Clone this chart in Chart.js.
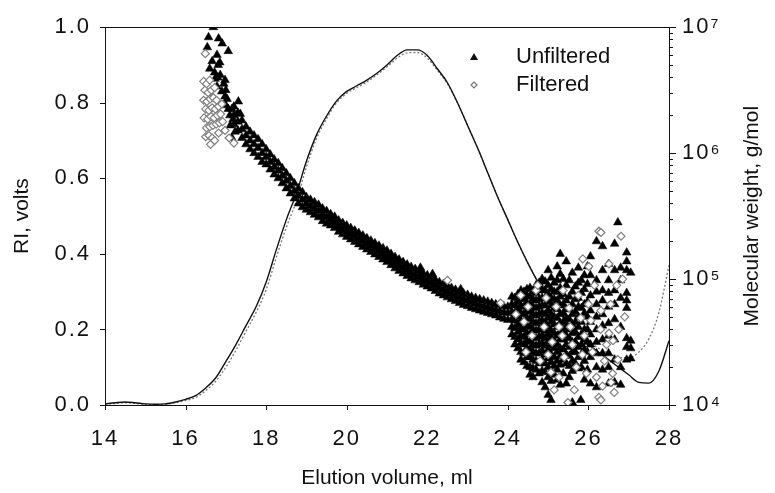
<!DOCTYPE html>
<html>
<head>
<meta charset="utf-8">
<style>
  html, body { margin: 0; padding: 0; background: #fff; }
  canvas { display: block; }
</style>
<script src="https://cdn.jsdelivr.net/npm/chart.js@4.4.1/dist/chart.umd.min.js"></script>
</head>
<body>
<canvas id="gpc" width="775" height="493"></canvas>
<script>
// RI traces, read every 0.25 ml
var riVolume = [14, 14.25, 14.5, 14.75, 15, 15.25, 15.5, 15.75, 16, 16.25, 16.5, 16.75,
  17, 17.25, 17.5, 17.75, 18, 18.25, 18.5, 18.75, 19, 19.25, 19.5, 19.75,
  20, 20.25, 20.5, 20.75, 21, 21.25, 21.5, 21.75, 22, 22.25, 22.5, 22.75,
  23, 23.25, 23.5, 23.75, 24, 24.25, 24.5, 24.75, 25, 25.25, 25.5, 25.75,
  26, 26.25, 26.5, 26.75, 27, 27.25, 27.5, 27.75, 28];
var riUnfiltered = [0.003, 0.006, 0.008, 0.006, 0.003, 0.002, 0.003, 0.008, 0.015, 0.025, 0.045, 0.072,
  0.115, 0.16, 0.21, 0.26, 0.325, 0.41, 0.49, 0.56, 0.645, 0.715, 0.765, 0.805,
  0.83, 0.845, 0.86, 0.878, 0.9, 0.925, 0.94, 0.94, 0.925, 0.89, 0.853, 0.8,
  0.74, 0.68, 0.615, 0.55, 0.49, 0.43, 0.375, 0.325, 0.285, 0.25, 0.215, 0.185,
  0.16, 0.14, 0.12, 0.1, 0.08, 0.06, 0.058, 0.09, 0.17];
var riFiltered = [0.002, 0.004, 0.006, 0.004, 0.002, 0.001, 0.002, 0.006, 0.012, 0.02, 0.038, 0.063,
  0.1, 0.145, 0.195, 0.245, 0.305, 0.39, 0.47, 0.54, 0.63, 0.705, 0.758, 0.8,
  0.825, 0.84, 0.855, 0.874, 0.895, 0.918, 0.932, 0.933, 0.918, 0.886, 0.85, 0.8,
  0.74, 0.68, 0.615, 0.55, 0.49, 0.43, 0.375, 0.325, 0.285, 0.25, 0.22, 0.19,
  0.17, 0.15, 0.137, 0.127, 0.125, 0.14, 0.175, 0.245, 0.37];

// molecular weight points: [elution volume ml, log10 of g/mol]
var unfilteredEarly = [[16.69, 7.0], [16.57, 6.92], [16.82, 6.91], [16.91, 6.87], [16.54, 6.84], [17.06, 6.81],
  [16.78, 6.78], [16.66, 6.73], [16.81, 6.7], [16.6, 6.67], [16.86, 6.62], [16.73, 6.59], [16.98, 6.58],
  [16.78, 6.53], [16.9, 6.49], [16.85, 6.72], [16.72, 6.64], [16.95, 6.55], [16.8, 6.6], [17.0, 6.5],
  [17.03, 6.43], [16.98, 6.45], [17.31, 6.41], [17.0, 6.38], [17.06, 6.35], [17.15, 6.35], [17.1, 6.3],
  [17.18, 6.27], [17.36, 6.31], [17.11, 6.22], [17.23, 6.17], [17.15, 6.12]];
var unfilteredBand = [
  [17.2, 6.37], [17.2, 6.3], [17.2, 6.23], [17.3, 6.32], [17.3, 6.25], [17.3, 6.18],
  [17.4, 6.26], [17.4, 6.19], [17.4, 6.12], [17.5, 6.21], [17.5, 6.14], [17.5, 6.07],
  [17.6, 6.17], [17.6, 6.1], [17.6, 6.03], [17.7, 6.14], [17.7, 6.07], [17.7, 6.0],
  [17.8, 6.11], [17.8, 6.04], [17.8, 5.97], [17.9, 6.07], [17.9, 6.0], [17.9, 5.93],
  [18.0, 6.03], [18.0, 5.97], [18.0, 5.91], [18.1, 5.99], [18.1, 5.93], [18.1, 5.87],
  [18.2, 5.95], [18.2, 5.89], [18.2, 5.83], [18.3, 5.92], [18.3, 5.86], [18.3, 5.8],
  [18.4, 5.88], [18.4, 5.82], [18.4, 5.76], [18.5, 5.84], [18.5, 5.78], [18.5, 5.72],
  [18.6, 5.8], [18.6, 5.74], [18.6, 5.68], [18.7, 5.76], [18.7, 5.7], [18.7, 5.64],
  [18.8, 5.72], [18.8, 5.66], [18.8, 5.6], [18.9, 5.69], [18.9, 5.63], [18.9, 5.57],
  [19.0, 5.65], [19.0, 5.6], [19.0, 5.55], [19.1, 5.63], [19.1, 5.58], [19.1, 5.53],
  [19.2, 5.61], [19.2, 5.56], [19.2, 5.51], [19.3, 5.59], [19.3, 5.54], [19.3, 5.49],
  [19.4, 5.56], [19.4, 5.51], [19.4, 5.46], [19.5, 5.54], [19.5, 5.49], [19.5, 5.44],
  [19.6, 5.515], [19.6, 5.47], [19.6, 5.425], [19.7, 5.495], [19.7, 5.45], [19.7, 5.405],
  [19.8, 5.465], [19.8, 5.42], [19.8, 5.375], [19.9, 5.445], [19.9, 5.4], [19.9, 5.355],
  [20.0, 5.425], [20.0, 5.38], [20.0, 5.335], [20.1, 5.405], [20.1, 5.36], [20.1, 5.315],
  [20.2, 5.385], [20.2, 5.34], [20.2, 5.295], [20.3, 5.365], [20.3, 5.32], [20.3, 5.275],
  [20.4, 5.345], [20.4, 5.3], [20.4, 5.255], [20.5, 5.325], [20.5, 5.28], [20.5, 5.235],
  [20.6, 5.305], [20.6, 5.26], [20.6, 5.215], [20.7, 5.285], [20.7, 5.24], [20.7, 5.195],
  [20.8, 5.265], [20.8, 5.22], [20.8, 5.175], [20.9, 5.245], [20.9, 5.2], [20.9, 5.155],
  [21.0, 5.225], [21.0, 5.18], [21.0, 5.135], [21.1, 5.2], [21.1, 5.155], [21.1, 5.11],
  [21.2, 5.175], [21.2, 5.13], [21.2, 5.085], [21.3, 5.155], [21.3, 5.11], [21.3, 5.065],
  [21.4, 5.135], [21.4, 5.09], [21.4, 5.045], [21.5, 5.115], [21.5, 5.07], [21.5, 5.025],
  [21.6, 5.095], [21.6, 5.05], [21.6, 5.005], [21.7, 5.08], [21.7, 5.035], [21.7, 4.99],
  [21.8, 5.065], [21.8, 5.02], [21.8, 4.975], [21.9, 5.045], [21.9, 5.0], [21.9, 4.955],
  [22.0, 5.03], [22.0, 4.985], [22.0, 4.94], [22.1, 5.015], [22.1, 4.97], [22.1, 4.925],
  [22.2, 4.995], [22.2, 4.95], [22.2, 4.905], [22.3, 4.975], [22.3, 4.93], [22.3, 4.885],
  [22.4, 4.96], [22.4, 4.915], [22.4, 4.87], [22.5, 4.945], [22.5, 4.9], [22.5, 4.855],
  [22.6, 4.93], [22.6, 4.885], [22.6, 4.84], [22.7, 4.915], [22.7, 4.87], [22.7, 4.825],
  [22.8, 4.9], [22.8, 4.855], [22.8, 4.81], [22.9, 4.885], [22.9, 4.84], [22.9, 4.795],
  [23.0, 4.875], [23.0, 4.83], [23.0, 4.785], [23.1, 4.86], [23.1, 4.815], [23.1, 4.77],
  [23.2, 4.85], [23.2, 4.805], [23.2, 4.76], [23.3, 4.84], [23.3, 4.795], [23.3, 4.75],
  [23.4, 4.83], [23.4, 4.785], [23.4, 4.74], [23.5, 4.82], [23.5, 4.775], [23.5, 4.73],
  [23.6, 4.81], [23.6, 4.765], [23.6, 4.72], [23.7, 4.8], [23.7, 4.755], [23.7, 4.71],
  [23.8, 4.795], [23.8, 4.745], [23.8, 4.695], [23.9, 4.785], [23.9, 4.735], [23.9, 4.685],
  [24.0, 4.78], [24.0, 4.73], [24.0, 4.675],
  [21.83, 5.09], [22.13, 5.04], [22.83, 4.92]];
var unfilteredLate = [
  [24.1, 4.86], [24.1, 4.8], [24.1, 4.74], [24.1, 4.68], [24.1, 4.62], [24.1, 4.56],
  [24.175, 4.85], [24.175, 4.79], [24.175, 4.73], [24.175, 4.67], [24.175, 4.61], [24.175, 4.54], [24.175, 4.48],
  [24.25, 4.88], [24.25, 4.82], [24.25, 4.76], [24.25, 4.7], [24.25, 4.64], [24.25, 4.58], [24.25, 4.52], [24.25, 4.45],
  [24.325, 4.91], [24.325, 4.85], [24.325, 4.79], [24.325, 4.73], [24.325, 4.67], [24.325, 4.61], [24.325, 4.55], [24.325, 4.49], [24.325, 4.42], [24.325, 4.36],
  [24.4, 4.9], [24.4, 4.84], [24.4, 4.78], [24.4, 4.72], [24.4, 4.66], [24.4, 4.6], [24.4, 4.54], [24.4, 4.48], [24.4, 4.41], [24.4, 4.34],
  [24.475, 4.92], [24.475, 4.87], [24.475, 4.81], [24.475, 4.75], [24.475, 4.69], [24.475, 4.63], [24.475, 4.57], [24.475, 4.51], [24.475, 4.45], [24.475, 4.38], [24.475, 4.31],
  [24.55, 4.93], [24.55, 4.86], [24.55, 4.8], [24.55, 4.74], [24.55, 4.68], [24.55, 4.62], [24.55, 4.56], [24.55, 4.5], [24.55, 4.44], [24.55, 4.38], [24.55, 4.3], [24.55, 4.24],
  [24.625, 4.9], [24.625, 4.84], [24.625, 4.78], [24.625, 4.72], [24.625, 4.66], [24.625, 4.6], [24.625, 4.54], [24.625, 4.48], [24.625, 4.42], [24.625, 4.36], [24.625, 4.29], [24.625, 4.22],
  [24.7, 4.95], [24.7, 4.89], [24.7, 4.83], [24.7, 4.77], [24.7, 4.71], [24.7, 4.65], [24.7, 4.59], [24.7, 4.53], [24.7, 4.47], [24.7, 4.41], [24.7, 4.35], [24.7, 4.28],
  [24.775, 4.97], [24.775, 4.91], [24.775, 4.84], [24.775, 4.78], [24.775, 4.72], [24.775, 4.66], [24.775, 4.6], [24.775, 4.54], [24.775, 4.48], [24.775, 4.41], [24.775, 4.33], [24.775, 4.25],
  [24.85, 5.0], [24.85, 4.92], [24.85, 4.85], [24.85, 4.79], [24.85, 4.73], [24.85, 4.67], [24.85, 4.61], [24.85, 4.55], [24.85, 4.49], [24.85, 4.43], [24.85, 4.36], [24.85, 4.27], [24.85, 4.18],
  [24.925, 4.98], [24.925, 4.91], [24.925, 4.85], [24.925, 4.79], [24.925, 4.72], [24.925, 4.66], [24.925, 4.59], [24.925, 4.53], [24.925, 4.47], [24.925, 4.4], [24.925, 4.33], [24.925, 4.26], [24.925, 4.14],
  [25.0, 5.07], [25.0, 4.95], [25.0, 4.88], [25.0, 4.82], [25.0, 4.75], [25.0, 4.69], [25.0, 4.62], [25.0, 4.56], [25.0, 4.5], [25.0, 4.44], [25.0, 4.37], [25.0, 4.3], [25.0, 4.22], [25.0, 4.08],
  [25.075, 5.01], [25.075, 4.92], [25.075, 4.85], [25.075, 4.79], [25.075, 4.72], [25.075, 4.66], [25.075, 4.59], [25.075, 4.53], [25.075, 4.47], [25.075, 4.4], [25.075, 4.34], [25.075, 4.27], [25.075, 4.19],
  [25.15, 4.97], [25.15, 4.9], [25.15, 4.84], [25.15, 4.77], [25.15, 4.7], [25.15, 4.64], [25.15, 4.57], [25.15, 4.51], [25.15, 4.45], [25.15, 4.38], [25.15, 4.31], [25.15, 4.24], [25.07, 4.04],
  [25.225, 5.1], [25.225, 4.99], [25.225, 4.9], [25.225, 4.83], [25.225, 4.76], [25.225, 4.69], [25.225, 4.62], [25.225, 4.55], [25.225, 4.48], [25.225, 4.42], [25.225, 4.35], [25.225, 4.28], [25.225, 4.2],
  [25.3, 5.2], [25.3, 5.04], [25.3, 4.93], [25.3, 4.86], [25.3, 4.79], [25.3, 4.72], [25.3, 4.65], [25.3, 4.58], [25.3, 4.52], [25.3, 4.45], [25.3, 4.39], [25.3, 4.32], [25.3, 4.16],
  [25.375, 5.0], [25.375, 4.88], [25.375, 4.8], [25.375, 4.73], [25.375, 4.66], [25.375, 4.59], [25.375, 4.52], [25.375, 4.44], [25.375, 4.36], [25.375, 4.25],
  [25.45, 5.14], [25.45, 4.95], [25.45, 4.83], [25.45, 4.76], [25.45, 4.69], [25.45, 4.62], [25.45, 4.55], [25.45, 4.48], [25.45, 4.4], [25.45, 4.33], [25.45, 4.17], [25.6, 4.02],
  [25.525, 4.99], [25.525, 4.86], [25.525, 4.76], [25.525, 4.68], [25.525, 4.6], [25.525, 4.53], [25.525, 4.46], [25.525, 4.39], [25.525, 4.31], [25.525, 4.22],
  [25.6, 5.05], [25.6, 4.9], [25.6, 4.8], [25.6, 4.72], [25.6, 4.64], [25.6, 4.57], [25.6, 4.5], [25.6, 4.42], [25.6, 4.35], [25.6, 4.27],
  [25.675, 4.94], [25.675, 4.84], [25.675, 4.74], [25.675, 4.66], [25.675, 4.58], [25.675, 4.5], [25.675, 4.42], [25.675, 4.33],
  [25.75, 5.09], [25.75, 4.97], [25.75, 4.85], [25.75, 4.78], [25.75, 4.7], [25.75, 4.62], [25.75, 4.54], [25.75, 4.46], [25.75, 4.38], [25.75, 4.29], [25.81, 4.04],
  [25.825, 4.99], [25.825, 4.89], [25.825, 4.77], [25.825, 4.66], [25.825, 4.56], [25.825, 4.48], [25.825, 4.4], [25.825, 4.3],
  [25.9, 5.03], [25.9, 4.92], [25.9, 4.8], [25.9, 4.73], [25.9, 4.6], [25.9, 4.52], [25.9, 4.44], [25.9, 4.35], [25.9, 4.2],
  [25.975, 5.1], [25.975, 4.96], [25.975, 4.82], [25.975, 4.7], [25.975, 4.6], [25.975, 4.5], [25.975, 4.42], [25.975, 4.28],
  [26.05, 5.18], [26.05, 5.03], [26.05, 4.87], [26.05, 4.75], [26.05, 4.66], [26.05, 4.56], [26.05, 4.48], [26.05, 4.38], [26.05, 4.17],
  [26.2, 5.3], [26.2, 4.99], [26.2, 4.9], [26.2, 4.8], [26.2, 4.7], [26.2, 4.6], [26.2, 4.5], [26.2, 4.41], [26.2, 4.3], [26.2, 4.14],
  [26.35, 5.26], [26.35, 5.07], [26.35, 4.91], [26.35, 4.83], [26.35, 4.72], [26.35, 4.63], [26.35, 4.52], [26.35, 4.41], [26.35, 4.28],
  [26.5, 5.12], [26.5, 4.99], [26.5, 4.89], [26.5, 4.78], [26.5, 4.65], [26.5, 4.55], [26.5, 4.41], [26.5, 4.3], [26.5, 4.17],
  [26.65, 5.28], [26.65, 5.07], [26.65, 4.91], [26.65, 4.8], [26.65, 4.68], [26.65, 4.52], [26.65, 4.36], [26.65, 4.18],
  [26.73, 5.45], [26.8, 5.09], [26.8, 4.99], [26.8, 4.85], [26.8, 4.62], [26.8, 4.3], [26.8, 4.16],
  [26.95, 5.21], [26.95, 5.14], [26.95, 5.07], [26.95, 4.89], [26.95, 4.83], [26.95, 4.77], [26.95, 4.53], [26.95, 4.46], [26.95, 4.36],
  [27.05, 5.05], [27.05, 4.51], [27.05, 4.45], [27.05, 4.37]];

var filteredEarly = [[16.49, 6.79], [16.45, 6.57], [16.52, 6.55], [16.6, 6.58], [16.48, 6.5], [16.56, 6.48],
  [16.64, 6.5], [16.72, 6.52], [16.45, 6.42], [16.53, 6.41], [16.61, 6.43], [16.69, 6.44], [16.77, 6.42],
  [16.5, 6.35], [16.58, 6.34], [16.66, 6.36], [16.74, 6.35], [16.82, 6.37], [16.9, 6.39], [16.46, 6.28],
  [16.55, 6.27], [16.63, 6.29], [16.71, 6.28], [16.79, 6.3], [16.87, 6.31], [16.52, 6.2], [16.6, 6.21],
  [16.68, 6.22], [16.76, 6.23], [16.84, 6.24], [16.92, 6.25], [16.5, 6.13], [16.58, 6.14], [16.66, 6.12],
  [16.82, 6.16], [16.98, 6.18], [17.08, 6.12], [17.2, 6.08], [16.62, 6.07], [16.72, 6.1]];
var filteredBand = [[22.5, 4.99], [23.82, 4.81]];
var filteredLate = [[24.32, 4.87], [24.7, 4.91], [24.74, 4.95], [25.37, 4.91], [25.52, 4.77], [25.27, 4.62],
  [25.81, 4.69], [26.06, 4.67], [26.31, 4.75], [26.51, 4.57], [26.61, 4.51], [26.73, 4.36], [25.07, 4.26],
  [25.27, 4.22], [25.49, 4.02], [26.26, 4.06], [26.64, 4.1], [26.26, 5.38], [26.81, 5.34], [25.86, 5.16],
  [26.01, 5.1], [26.51, 5.12], [26.31, 5.37], [25.6, 4.48], [25.9, 4.55], [26.1, 4.42], [26.4, 4.35],
  [26.2, 4.22], [25.7, 4.3], [25.4, 4.38], [25.1, 4.5], [24.9, 4.62], [24.6, 4.55], [24.4, 4.66],
  [24.2, 4.72], [25.0, 4.4], [25.65, 4.12], [25.95, 4.25], [26.45, 4.48], [26.75, 4.6], [26.55, 4.8],
  [26.9, 4.7], [26.15, 4.95], [25.75, 4.87], [25.55, 4.62], [25.2, 4.78], [24.95, 4.85], [24.5, 4.78],
  [26.0, 4.8], [26.3, 4.6], [25.35, 4.55], [25.85, 4.4], [26.6, 4.25], [26.35, 4.15], [25.15, 4.12],
  [24.8, 4.35], [24.45, 4.42], [26.85, 5.0], [26.7, 4.95], [26.31, 4.04], [26.56, 4.18]];

var mwDecades = [1e4, 1e5, 1e6, 1e7];
var supDigits = { 4: '\u2074', 5: '\u2075', 6: '\u2076', 7: '\u2077' };

var toMw = function(list) {
  return list.map(function(p) { return { x: p[0], y: Math.pow(10, p[1]) }; });
};
var toRi = function(vals) {
  return vals.map(function(v, i) { return { x: riVolume[i], y: v }; });
};

var FONT = "'Liberation Sans', Arial, sans-serif";
Chart.defaults.font.family = FONT;
Chart.defaults.color = '#111';

var decor = {
  id: 'decor',
  beforeDraw: function(chart) {
    // the scanned tick numbers are set loosely
    chart.ctx.letterSpacing = '2px';
  },
  beforeDatasetsDraw: function(chart) {
    chart.ctx.letterSpacing = '0px';
  },
  afterDraw: function(chart) {
    var ctx = chart.ctx, a = chart.chartArea;
    var xs = chart.scales.x, ri = chart.scales.ri, mw = chart.scales.mw;
    ctx.save();
    ctx.letterSpacing = '0px';
    ctx.strokeStyle = '#111';
    ctx.lineWidth = 1;
    ctx.strokeRect(Math.round(a.left) + 0.5, Math.round(a.top) + 0.5,
      Math.round(a.right - a.left), Math.round(a.bottom - a.top));
    ctx.beginPath();
    xs.ticks.forEach(function(t) {
      var px = Math.round(xs.getPixelForValue(t.value)) + 0.5;
      ctx.moveTo(px, a.bottom);
      ctx.lineTo(px, a.bottom + 5);
    });
    ri.ticks.forEach(function(t) {
      var py = Math.round(ri.getPixelForValue(t.value)) + 0.5;
      ctx.moveTo(a.left, py);
      ctx.lineTo(a.left - 5, py);
    });
    for (var e = 4; e < 7; e++) {
      for (var m = 1; m < 10; m++) {
        var py = Math.round(mw.getPixelForValue(m * Math.pow(10, e))) + 0.5;
        ctx.moveTo(a.right, py);
        ctx.lineTo(a.right + (m == 1 ? 7 : 4), py);
      }
    }
    var top = Math.round(mw.getPixelForValue(1e7)) + 0.5;
    ctx.moveTo(a.right, top);
    ctx.lineTo(a.right + 7, top);
    ctx.stroke();

    // axis titles
    ctx.font = '21px ' + FONT;
    ctx.fillStyle = '#111';
    ctx.textAlign = 'center';
    ctx.textBaseline = 'middle';
    var midY = (a.top + a.bottom) / 2;
    ctx.fillText('Elution volume, ml', (a.left + a.right) / 2, 478);
    ctx.save();
    ctx.translate(22, midY);
    ctx.rotate(-Math.PI / 2);
    ctx.fillText('RI, volts', 0, 0);
    ctx.restore();
    ctx.save();
    ctx.translate(752, midY);
    ctx.rotate(-Math.PI / 2);
    ctx.fillText('Molecular weight, g/mol', 0, 0);
    ctx.restore();

    // legend
    ctx.beginPath();
    ctx.moveTo(474, 53);
    ctx.lineTo(478, 60);
    ctx.lineTo(470, 60);
    ctx.closePath();
    ctx.fill();
    ctx.beginPath();
    ctx.moveTo(474, 82);
    ctx.lineTo(477, 85);
    ctx.lineTo(474, 88);
    ctx.lineTo(471, 85);
    ctx.closePath();
    ctx.strokeStyle = '#777';
    ctx.lineWidth = 1.2;
    ctx.stroke();
    ctx.font = '22px ' + FONT;
    ctx.textAlign = 'left';
    ctx.fillText('Unfiltered', 516, 57);
    ctx.fillText('Filtered', 516, 85);
    ctx.restore();
  }
};

var tickFont = { size: 22 };

var chart = new Chart(document.getElementById('gpc').getContext('2d'), {
  type: 'scatter',
  data: {
    datasets: [{
      label: 'Filtered',
      yAxisID: 'mw',
      data: toMw(filteredEarly.concat(filteredBand, filteredLate)),
      pointStyle: 'rectRot',
      pointRadius: 4,
      backgroundColor: '#fff',
      borderColor: '#808080',
      borderWidth: 1.2
    }, {
      label: 'Unfiltered',
      yAxisID: 'mw',
      data: toMw(unfilteredEarly.concat(unfilteredBand, unfilteredLate)),
      pointStyle: 'triangle',
      pointRadius: 5,
      backgroundColor: '#000',
      borderColor: '#000',
      borderWidth: 0.5
    }, {
      label: 'RI unfiltered',
      yAxisID: 'ri',
      data: toRi(riUnfiltered),
      showLine: true,
      pointRadius: 0,
      borderColor: '#111',
      borderWidth: 1.4,
      cubicInterpolationMode: 'monotone'
    }, {
      label: 'RI filtered',
      yAxisID: 'ri',
      data: toRi(riFiltered),
      showLine: true,
      pointRadius: 0,
      borderColor: '#777',
      borderWidth: 1.3,
      borderDash: [2, 2],
      cubicInterpolationMode: 'monotone'
    }]
  },
  options: {
    responsive: false,
    animation: false,
    devicePixelRatio: 1,
    layout: { padding: { top: 24, left: 0, right: 0, bottom: 0 } },
    plugins: { legend: { display: false }, tooltip: { enabled: false } },
    scales: {
      x: {
        type: 'linear',
        position: 'bottom',
        min: 14,
        max: 28,
        grid: { display: false, drawTicks: false },
        border: { display: false },
        ticks: { stepSize: 2, padding: 21, font: tickFont, color: '#111' },
        afterFit: function(s) { s.height = 88; }
      },
      ri: {
        type: 'linear',
        position: 'left',
        min: 0,
        max: 1,
        grid: { display: false, drawTicks: false },
        border: { display: false },
        ticks: {
          stepSize: 0.2,
          padding: 14,
          font: tickFont,
          color: '#111',
          callback: function(v) { return v.toFixed(1); }
        },
        afterFit: function(s) { s.width = 105; }
      },
      mw: {
        type: 'logarithmic',
        position: 'right',
        min: 1e4,
        max: 1e7,
        grid: { display: false, drawTicks: false },
        border: { display: false },
        afterBuildTicks: function(s) {
          s.ticks = mwDecades.map(function(v) { return { value: v }; });
        },
        ticks: {
          padding: 13,
          font: tickFont,
          color: '#111',
          callback: function(v) { return '10' + supDigits[Math.round(Math.log10(v))]; }
        },
        afterFit: function(s) { s.width = 106; }
      }
    }
  },
  plugins: [decor]
});
</script>
</body>
</html>
